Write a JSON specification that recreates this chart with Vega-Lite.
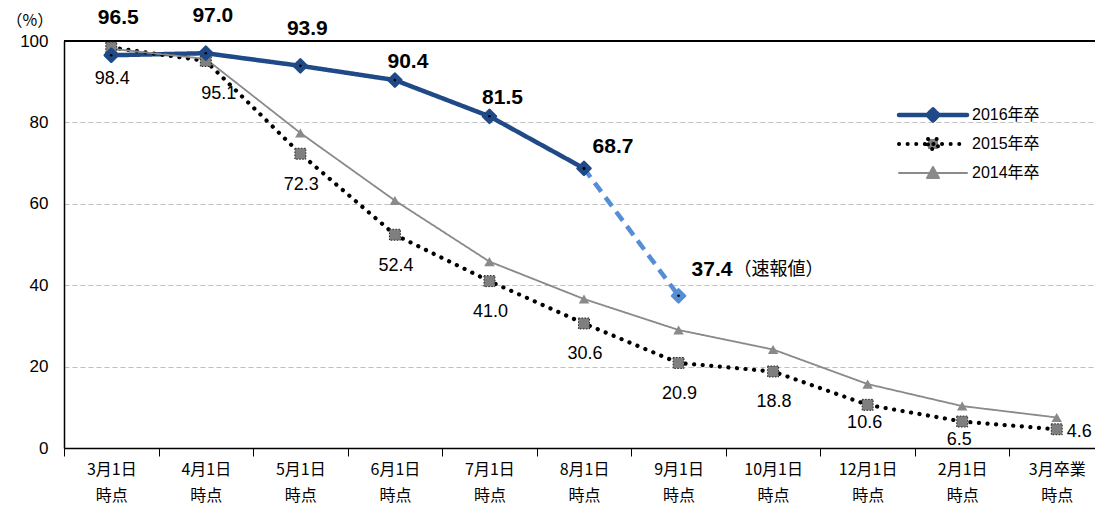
{
  "$schema": "https://vega.github.io/schema/vega-lite/v6.json",
  "width": 1031,
  "height": 407,
  "autosize": {"type": "none"},
  "padding": {"left": 64, "top": 41, "right": 0, "bottom": 58},
  "background": "white",
  "config": {
    "view": {"stroke": null},
    "font": "Liberation Sans, Noto Sans CJK JP",
    "axis": {"labelColor": "black", "titleColor": "black"}
  },
  "datasets": {
    "main": [
      {"month": "3月1日 時点", "series": "2016年卒", "value": 96.5},
      {"month": "4月1日 時点", "series": "2016年卒", "value": 97.0},
      {"month": "5月1日 時点", "series": "2016年卒", "value": 93.9},
      {"month": "6月1日 時点", "series": "2016年卒", "value": 90.4},
      {"month": "7月1日 時点", "series": "2016年卒", "value": 81.5},
      {"month": "8月1日 時点", "series": "2016年卒", "value": 68.7},
      {"month": "3月1日 時点", "series": "2015年卒", "value": 98.4},
      {"month": "4月1日 時点", "series": "2015年卒", "value": 95.1},
      {"month": "5月1日 時点", "series": "2015年卒", "value": 72.3},
      {"month": "6月1日 時点", "series": "2015年卒", "value": 52.4},
      {"month": "7月1日 時点", "series": "2015年卒", "value": 41.0},
      {"month": "8月1日 時点", "series": "2015年卒", "value": 30.6},
      {"month": "9月1日 時点", "series": "2015年卒", "value": 20.9},
      {"month": "10月1日 時点", "series": "2015年卒", "value": 18.8},
      {"month": "12月1日 時点", "series": "2015年卒", "value": 10.6},
      {"month": "2月1日 時点", "series": "2015年卒", "value": 6.5},
      {"month": "3月卒業 時点", "series": "2015年卒", "value": 4.6},
      {"month": "3月1日 時点", "series": "2014年卒", "value": 98.1},
      {"month": "4月1日 時点", "series": "2014年卒", "value": 95.6},
      {"month": "5月1日 時点", "series": "2014年卒", "value": 77.4},
      {"month": "6月1日 時点", "series": "2014年卒", "value": 60.8},
      {"month": "7月1日 時点", "series": "2014年卒", "value": 45.8},
      {"month": "8月1日 時点", "series": "2014年卒", "value": 36.6},
      {"month": "9月1日 時点", "series": "2014年卒", "value": 29.0},
      {"month": "10月1日 時点", "series": "2014年卒", "value": 24.2},
      {"month": "12月1日 時点", "series": "2014年卒", "value": 15.7},
      {"month": "2月1日 時点", "series": "2014年卒", "value": 10.3},
      {"month": "3月卒業 時点", "series": "2014年卒", "value": 7.5}
    ],
    "prelim": [
      {"month": "8月1日 時点", "value": 68.7},
      {"month": "9月1日 時点", "value": 37.4}
    ]
  },
  "data": {"name": "main"},
  "encoding": {
    "x": {
      "field": "month", "type": "nominal",
      "sort": ["3月1日 時点", "4月1日 時点", "5月1日 時点", "6月1日 時点", "7月1日 時点", "8月1日 時点", "9月1日 時点", "10月1日 時点", "12月1日 時点", "2月1日 時点", "3月卒業 時点"],
      "scale": {"type": "band", "range": [0, 1040], "paddingInner": 0, "paddingOuter": 0},
      "axis": {
        "title": null, "labelAngle": 0,
        "labelExpr": "split(datum.label, ' ')",
        "labelFont": "Noto Sans CJK JP", "labelFontSize": 16, "labelLineHeight": 26,
        "labelPadding": 5, "labelBaseline": "top",
        "tickBand": "extent", "tickSize": 8, "tickColor": "black", "tickWidth": 1,
        "domainColor": "black", "domainWidth": 1.5, "grid": false
      }
    },
    "y": {
      "field": "value", "type": "quantitative",
      "scale": {"domain": [0, 100], "nice": false, "zero": true},
      "axis": {
        "title": "（%）", "titleAngle": 0, "titleX": -58, "titleY": -21,
        "titleAlign": "left", "titleBaseline": "middle",
        "titleFont": "Noto Sans CJK JP", "titleFontSize": 16, "titleFontWeight": "normal",
        "values": [0, 20, 40, 60, 80, 100],
        "labelFontSize": 17, "labelPadding": 16, "ticks": false,
        "domainColor": "black", "domainWidth": 1.5,
        "grid": true, "gridColor": "#bfbfbf", "gridDash": [5, 3], "gridWidth": 1
      }
    }
  },
  "layer": [
    {
      "mark": {"type": "rule", "color": "black", "strokeWidth": 1.5},
      "encoding": {"x": null, "y": {"datum": 100}}
    },
    {
      "mark": {"type": "line", "strokeCap": "round", "strokeJoin": "round"},
      "encoding": {
        "color": {
          "field": "series", "type": "nominal",
          "scale": {"domain": ["2016年卒", "2015年卒", "2014年卒"], "range": ["#1f4a87", "#000000", "#8a8a8a"]},
          "legend": {
            "title": null, "orient": "none", "legendX": 861, "legendY": 66,
            "symbolType": "M-3.4,0H3.4", "symbolSize": 400,
            "labelFont": "Liberation Sans, Noto Sans CJK JP", "labelFontSize": 16, "labelColor": "black",
            "labelOffset": 31, "rowPadding": 13,
            "encode": {
              "symbols": {
                "update": {
                  "shape": {"signal": "datum.value === '2016年卒' ? 'M-3.4,0H3.4M-0.55,0L0,-0.55L0.55,0L0,0.55Z' : datum.value === '2015年卒' ? 'M-3.4,0H3.4M-0.5,-0.5H0.5V0.5H-0.5Z' : 'M-3.4,0H3.4M-0.6,0.5L0,-0.6L0.6,0.5Z'"},
                  "fill": {"signal": "datum.value === '2016年卒' ? '#1f4a87' : datum.value === '2015年卒' ? '#7f7f7f' : '#8a8a8a'"},
                  "stroke": {"signal": "datum.value === '2016年卒' ? '#1f4a87' : datum.value === '2015年卒' ? '#000000' : '#8a8a8a'"},
                  "strokeDash": {"signal": "datum.value === '2015年卒' ? [0.1, 8] : [1, 0]"},
                  "strokeWidth": {"signal": "datum.value === '2016年卒' ? 4.5 : datum.value === '2015年卒' ? 4 : 2"},
                  "strokeCap": {"value": "round"},
                  "strokeJoin": {"value": "round"},
                  "opacity": {"value": 1}
                }
              }
            }
          }
        },
        "strokeDash": {
          "field": "series", "type": "nominal",
          "scale": {"domain": ["2016年卒", "2015年卒", "2014年卒"], "range": [[1, 0], [0.1, 8.5], [1, 0]]},
          "legend": null
        },
        "strokeWidth": {
          "condition": [
            {"test": "datum.series === '2014年卒'", "value": 1.8},
            {"test": "datum.series === '2015年卒'", "value": 4.2}
          ],
          "value": 4.5
        }
      }
    },
    {
      "data": {"name": "prelim"},
      "mark": {"type": "line", "color": "#558ed5", "strokeWidth": 4.5, "strokeDash": [11, 7]},
      "encoding": {}
    },
    {
      "transform": [{"filter": "datum.series === '2014年卒'"}],
      "mark": {"type": "point", "shape": "triangle-up", "filled": true, "color": "#8a8a8a", "size": 110, "opacity": 1}
    },
    {
      "transform": [{"filter": "datum.series === '2015年卒'"}],
      "mark": {"type": "point", "shape": "square", "filled": true, "fill": "#7f7f7f", "stroke": "#222222", "strokeWidth": 1, "strokeDash": [1.5, 1.5], "size": 120, "opacity": 1}
    },
    {
      "transform": [{"filter": "datum.series === '2016年卒'"}],
      "mark": {"type": "point", "shape": "diamond", "filled": true, "fill": "#1f4a87", "stroke": "#1f4a87", "strokeWidth": 2.5, "strokeJoin": "round", "size": 170, "opacity": 1}
    },
    {
      "data": {"name": "prelim"},
      "transform": [{"filter": "datum.value < 50"}],
      "mark": {"type": "point", "shape": "diamond", "filled": true, "fill": "#558ed5", "stroke": "#558ed5", "strokeWidth": 2.5, "strokeJoin": "round", "size": 170, "opacity": 1}
    },
    {
      "data": {"name": "prelim"},
      "mark": {"type": "point", "shape": "circle", "filled": true, "color": "black", "size": 7, "opacity": 1}
    },
    {
      "transform": [{"filter": "datum.series === '2016年卒'"}],
      "mark": {"type": "point", "shape": "circle", "filled": true, "color": "black", "size": 7, "opacity": 1}
    },
    {
      "transform": [{"filter": "datum.series === '2016年卒' && datum.value > 93"}],
      "mark": {"type": "text", "fontSize": 21, "fontWeight": "bold", "dx": 7, "dy": -37, "baseline": "middle", "color": "black"},
      "encoding": {"text": {"field": "value", "type": "quantitative", "format": ".1f"}}
    },
    {
      "transform": [{"filter": "datum.series === '2016年卒' && datum.value > 75 && datum.value < 93"}],
      "mark": {"type": "text", "fontSize": 21, "fontWeight": "bold", "dx": 13, "dy": -18, "baseline": "middle", "color": "black"},
      "encoding": {"text": {"field": "value", "type": "quantitative", "format": ".1f"}}
    },
    {
      "transform": [{"filter": "datum.series === '2016年卒' && datum.value < 75"}],
      "mark": {"type": "text", "fontSize": 21, "fontWeight": "bold", "dx": 29, "dy": -21, "baseline": "middle", "color": "black"},
      "encoding": {"text": {"field": "value", "type": "quantitative", "format": ".1f"}}
    },
    {
      "transform": [{"filter": "datum.series === '2015年卒' && datum.month !== '4月1日 時点' && datum.value > 15"}],
      "mark": {"type": "text", "fontSize": 18, "dx": 1, "dy": 31, "baseline": "middle", "color": "black"},
      "encoding": {"text": {"field": "value", "type": "quantitative", "format": ".1f"}}
    },
    {
      "transform": [{"filter": "datum.series === '2015年卒' && datum.month === '4月1日 時点'"}],
      "mark": {"type": "text", "fontSize": 18, "dx": 13, "dy": 33, "baseline": "middle", "color": "black"},
      "encoding": {"text": {"field": "value", "type": "quantitative", "format": ".1f"}}
    },
    {
      "transform": [{"filter": "datum.series === '2015年卒' && datum.value < 15 && datum.value > 5"}],
      "mark": {"type": "text", "fontSize": 18, "dx": -3, "dy": 18, "baseline": "middle", "color": "black"},
      "encoding": {"text": {"field": "value", "type": "quantitative", "format": ".1f"}}
    },
    {
      "transform": [{"filter": "datum.series === '2015年卒' && datum.value < 5"}],
      "mark": {"type": "text", "fontSize": 18, "dx": 10, "dy": 3, "align": "left", "baseline": "middle", "color": "black"},
      "encoding": {"text": {"field": "value", "type": "quantitative", "format": ".1f"}}
    },
    {
      "data": {"name": "prelim"},
      "transform": [{"filter": "datum.value < 50"}],
      "mark": {"type": "text", "fontSize": 21, "fontWeight": "bold", "dx": 13, "dy": -26, "align": "left", "baseline": "middle", "color": "black"},
      "encoding": {"text": {"field": "value", "type": "quantitative", "format": ".1f"}}
    },
    {
      "data": {"name": "prelim"},
      "transform": [{"filter": "datum.value < 50"}],
      "mark": {"type": "text", "text": "（速報値）", "font": "Noto Sans CJK JP", "fontSize": 18, "dx": 55, "dy": -26, "align": "left", "baseline": "middle", "color": "black"},
      "encoding": {}
    }
  ]
}
